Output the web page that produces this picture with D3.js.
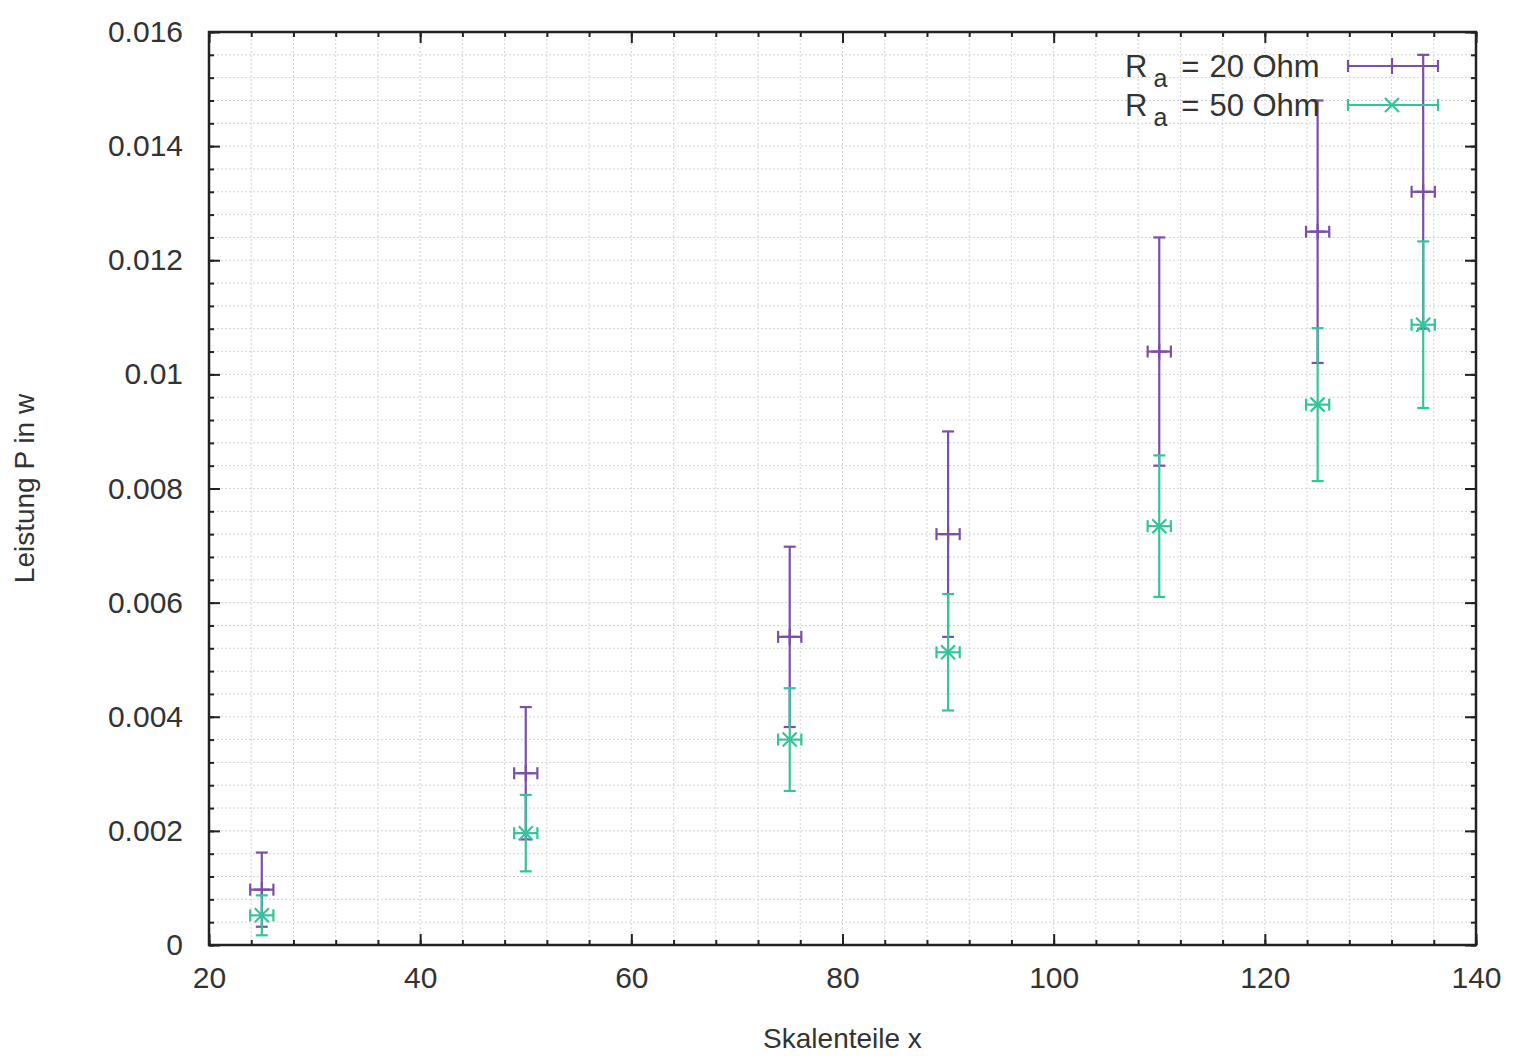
<!DOCTYPE html>
<html>
<head>
<meta charset="utf-8">
<script src="https://cdn.jsdelivr.net/npm/d3@7"></script>
<style>
  body { margin: 0; background: #fff; }
  text { font-family: "Liberation Sans", Arial, sans-serif; fill: #333; }
</style>
</head>
<body>
<script>
const w = 1518;
const h = 1056;

// data
const skalenteile = [25, 50, 75, 90, 110, 125, 135];
const xErr = 1.1;
const p20 = [0.00097, 0.00301, 0.0054, 0.0072, 0.0104, 0.0125, 0.0132];
const err20 = [0.00065, 0.00116, 0.00158, 0.0018, 0.002, 0.0023, 0.0024];
const p50 = [0.00052, 0.00196, 0.0036, 0.00513, 0.00734, 0.00947, 0.01087];
const err50 = [0.00035, 0.00067, 0.0009, 0.00102, 0.00124, 0.00134, 0.00146];
const xTicks = [20, 40, 60, 80, 100, 120, 140];
const yTicks = [0, 0.002, 0.004, 0.006, 0.008, 0.01, 0.012, 0.014, 0.016];
const yTickLabels = ["0", "0.002", "0.004", "0.006", "0.008", "0.01", "0.012", "0.014", "0.016"];

const purple = "#7b4ea8";
const teal = "#33c49a";

let svg = d3.select("body").append("svg")
    .attr("width", w)
    .attr("height", h)
    .style("background-color", "#fff");

var x = d3.scaleLinear().domain([20, 140]).range([209, 1476]);
var y = d3.scaleLinear().domain([0, 0.016]).range([945, 32]);

var xMinor = d3.range(20, 140.1, 4);
var yMinor = d3.range(0, 0.01601, 0.0004);

// grid
svg.append("g").selectAll("line").data(xMinor).join("line")
    .attr("x1", d => x(d)).attr("x2", d => x(d))
    .attr("y1", y(0)).attr("y2", y(0.016))
    .attr("stroke", "#d4d4d4").attr("stroke-dasharray", "2,2");
svg.append("g").selectAll("line").data(yMinor).join("line")
    .attr("y1", d => y(d)).attr("y2", d => y(d))
    .attr("x1", x(20)).attr("x2", x(140))
    .attr("stroke", "#d4d4d4").attr("stroke-dasharray", "2,2");

// axes, ticks pointing inwards on all sides
function styleAxis(g) {
    g.select(".domain").remove();
    g.selectAll(".tick line").attr("stroke", "#222").attr("stroke-width", 2);
    g.selectAll(".tick text").style("font-size", "30px").attr("fill", "#444");
}

svg.append("g").attr("transform", "translate(0," + y(0) + ")")
    .call(d3.axisBottom(x).tickValues(xTicks).tickSizeInner(-11).tickPadding(22))
    .call(styleAxis);
svg.append("g").attr("transform", "translate(0," + y(0) + ")")
    .call(d3.axisBottom(x).tickValues(xMinor).tickSizeInner(-5).tickFormat(""))
    .call(styleAxis);
svg.append("g").attr("transform", "translate(0," + y(0.016) + ")")
    .call(d3.axisTop(x).tickValues(xTicks).tickSizeInner(-11).tickFormat(""))
    .call(styleAxis);
svg.append("g").attr("transform", "translate(0," + y(0.016) + ")")
    .call(d3.axisTop(x).tickValues(xMinor).tickSizeInner(-5).tickFormat(""))
    .call(styleAxis);

svg.append("g").attr("transform", "translate(" + x(20) + ",0)")
    .call(d3.axisLeft(y).tickValues(yTicks).tickSizeInner(-11).tickPadding(26)
        .tickFormat((d, i) => yTickLabels[i]))
    .call(styleAxis);
svg.append("g").attr("transform", "translate(" + x(20) + ",0)")
    .call(d3.axisLeft(y).tickValues(yMinor).tickSizeInner(-5).tickFormat(""))
    .call(styleAxis);
svg.append("g").attr("transform", "translate(" + x(140) + ",0)")
    .call(d3.axisRight(y).tickValues(yTicks).tickSizeInner(-11).tickFormat(""))
    .call(styleAxis);
svg.append("g").attr("transform", "translate(" + x(140) + ",0)")
    .call(d3.axisRight(y).tickValues(yMinor).tickSizeInner(-5).tickFormat(""))
    .call(styleAxis);

// border
svg.append("rect")
    .attr("x", x(20)).attr("y", y(0.016))
    .attr("width", x(140) - x(20)).attr("height", y(0) - y(0.016))
    .attr("fill", "none").attr("stroke", "#222").attr("stroke-width", 2.5);

// axis titles
svg.append("text")
    .attr("transform", "translate(34," + (y(0.008)) + ") rotate(-90)")
    .attr("text-anchor", "middle")
    .style("font-size", "28px")
    .text("Leistung P in w");
svg.append("text")
    .attr("x", x(80)).attr("y", 1048)
    .attr("text-anchor", "middle")
    .style("font-size", "28px")
    .text("Skalenteile x");

// error bars
function errorSeries(vals, errs, color, marker) {
    let g = svg.append("g").attr("stroke", color).attr("stroke-width", 2.2).attr("fill", "none");
    skalenteile.forEach(function (xv, i) {
        let cx = x(xv), cy = y(vals[i]);
        let top = y(vals[i] + errs[i]), bot = y(vals[i] - errs[i]);
        let xl = x(xv - xErr), xr = x(xv + xErr);
        g.append("line").attr("x1", cx).attr("x2", cx).attr("y1", top).attr("y2", bot);
        g.append("line").attr("x1", cx - 6).attr("x2", cx + 6).attr("y1", top).attr("y2", top);
        g.append("line").attr("x1", cx - 6).attr("x2", cx + 6).attr("y1", bot).attr("y2", bot);
        g.append("line").attr("x1", xl).attr("x2", xr).attr("y1", cy).attr("y2", cy);
        g.append("line").attr("x1", xl).attr("x2", xl).attr("y1", cy - 6).attr("y2", cy + 6);
        g.append("line").attr("x1", xr).attr("x2", xr).attr("y1", cy - 6).attr("y2", cy + 6);
        marker(g, cx, cy);
    });
}
function plusMark(g, cx, cy) {
    g.append("path").attr("d", `M${cx - 8},${cy}H${cx + 8}M${cx},${cy - 8}V${cy + 8}`);
}
function crossMark(g, cx, cy) {
    g.append("path").attr("d", `M${cx - 7},${cy - 7}L${cx + 7},${cy + 7}M${cx - 7},${cy + 7}L${cx + 7},${cy - 7}`);
}
errorSeries(p20, err20, purple, plusMark);
errorSeries(p50, err50, teal, crossMark);

// legend
const legend = [
    { label: "20 Ohm", color: purple, mark: plusMark, y: 66 },
    { label: "50 Ohm", color: teal, mark: crossMark, y: 105 }
];
legend.forEach(function (l) {
    let t = svg.append("text").attr("x", 1125).attr("y", l.y + 11).style("font-size", "31px");
    t.append("tspan").text("R");
    t.append("tspan").attr("dx", 6).attr("dy", 10).style("font-size", "25px").text("a");
    t.append("tspan").attr("dx", 14).attr("dy", -10).text("=");
    t.append("tspan").attr("dx", 10).text(l.label);
    let g = svg.append("g").attr("stroke", l.color).attr("stroke-width", 2.2);
    g.append("line").attr("x1", 1348).attr("x2", 1438).attr("y1", l.y).attr("y2", l.y);
    g.append("line").attr("x1", 1348).attr("x2", 1348).attr("y1", l.y - 6).attr("y2", l.y + 6);
    g.append("line").attr("x1", 1438).attr("x2", 1438).attr("y1", l.y - 6).attr("y2", l.y + 6);
    l.mark(g, 1392, l.y);
});
</script>
</body>
</html>
